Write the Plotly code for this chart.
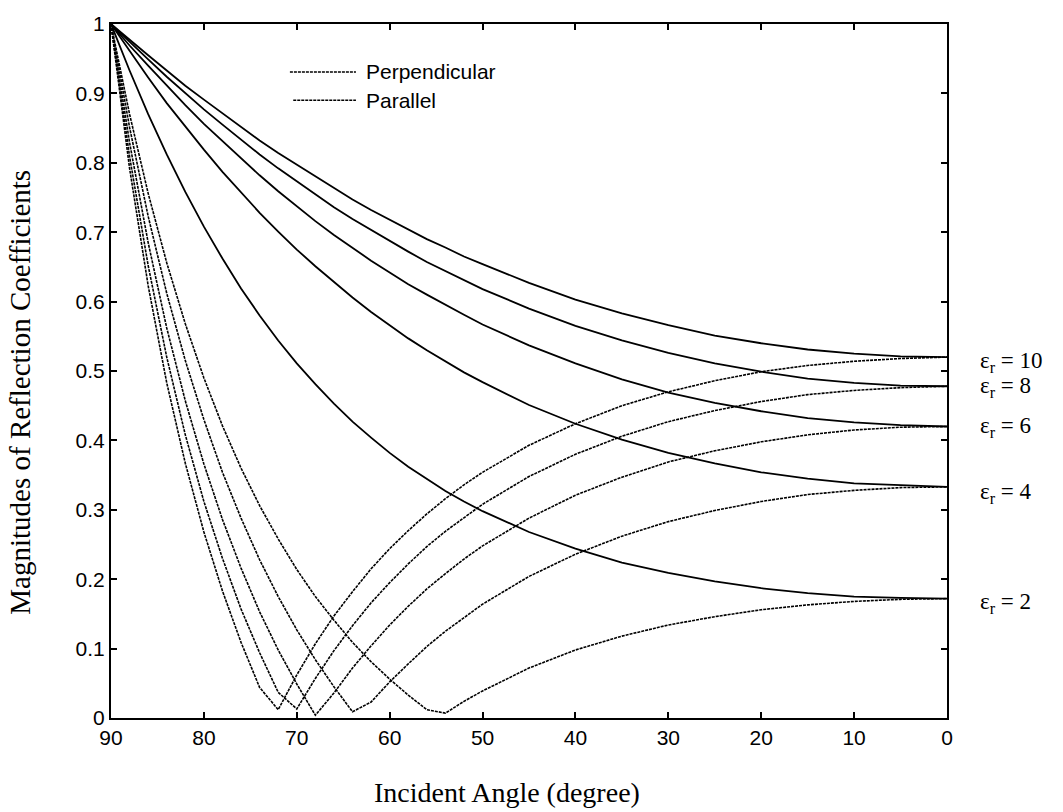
import plotly.graph_objects as go

# Incident angle (degree)
angles = [90, 88, 86, 84, 82, 80, 78, 76, 74, 72, 70, 68, 66, 64, 62, 60, 58, 56, 54, 52, 50,
          45, 40, 35, 30, 25, 20, 15, 10, 5, 0]

# Perpendicular polarisation magnitudes
perp_2 = [1.000, 0.933, 0.870, 0.812, 0.758, 0.708, 0.662, 0.619, 0.580, 0.544, 0.511, 0.481, 0.453, 0.427, 0.404, 0.382,
          0.362, 0.344, 0.327, 0.312, 0.298, 0.268, 0.244, 0.224, 0.209, 0.197, 0.187, 0.180, 0.175, 0.173, 0.172]
perp_4 = [1.000, 0.961, 0.923, 0.886, 0.852, 0.819, 0.787, 0.757, 0.728, 0.701, 0.675, 0.651, 0.628, 0.606, 0.585, 0.566,
          0.547, 0.530, 0.514, 0.498, 0.484, 0.451, 0.424, 0.401, 0.382, 0.367, 0.354, 0.345, 0.338, 0.335, 0.333]
perp_6 = [1.000, 0.969, 0.940, 0.911, 0.883, 0.856, 0.831, 0.806, 0.782, 0.759, 0.737, 0.716, 0.696, 0.677, 0.659, 0.642,
          0.625, 0.610, 0.595, 0.581, 0.567, 0.537, 0.511, 0.488, 0.469, 0.454, 0.442, 0.432, 0.426, 0.422, 0.420]
perp_8 = [1.000, 0.974, 0.949, 0.924, 0.900, 0.877, 0.855, 0.833, 0.812, 0.792, 0.773, 0.754, 0.736, 0.719, 0.703, 0.687,
          0.672, 0.657, 0.644, 0.631, 0.618, 0.590, 0.565, 0.544, 0.526, 0.511, 0.499, 0.489, 0.483, 0.479, 0.478]
perp_10 = [1.000, 0.977, 0.955, 0.933, 0.911, 0.891, 0.871, 0.851, 0.832, 0.814, 0.797, 0.780, 0.763, 0.747, 0.732, 0.718,
           0.704, 0.690, 0.678, 0.665, 0.654, 0.627, 0.603, 0.583, 0.566, 0.551, 0.540, 0.531, 0.525, 0.521, 0.520]

# Parallel polarisation magnitudes
par_2 = [1.000, 0.870, 0.756, 0.656, 0.568, 0.490, 0.421, 0.360, 0.306, 0.258, 0.214, 0.175, 0.141, 0.109, 0.081, 0.056,
         0.033, 0.012, 0.007, 0.024, 0.039, 0.072, 0.098, 0.118, 0.134, 0.146, 0.156, 0.163, 0.168, 0.171, 0.172]
par_4 = [1.000, 0.851, 0.723, 0.612, 0.515, 0.430, 0.354, 0.288, 0.228, 0.175, 0.127, 0.084, 0.045, 0.009, 0.023, 0.052,
         0.078, 0.103, 0.125, 0.145, 0.164, 0.204, 0.236, 0.262, 0.283, 0.299, 0.312, 0.322, 0.328, 0.332, 0.333]
par_6 = [1.000, 0.829, 0.685, 0.562, 0.457, 0.366, 0.286, 0.216, 0.153, 0.098, 0.049, 0.004, 0.036, 0.072, 0.104, 0.134,
         0.161, 0.186, 0.208, 0.229, 0.248, 0.288, 0.321, 0.347, 0.369, 0.385, 0.398, 0.408, 0.415, 0.419, 0.420]
par_8 = [1.000, 0.809, 0.652, 0.520, 0.408, 0.312, 0.230, 0.157, 0.094, 0.037, 0.013, 0.057, 0.097, 0.133, 0.166, 0.195,
         0.222, 0.247, 0.269, 0.289, 0.308, 0.348, 0.380, 0.406, 0.427, 0.443, 0.456, 0.466, 0.472, 0.476, 0.478]
par_10 = [1.000, 0.792, 0.623, 0.483, 0.367, 0.268, 0.183, 0.109, 0.044, 0.012, 0.062, 0.107, 0.147, 0.182, 0.215, 0.244,
          0.270, 0.294, 0.316, 0.336, 0.354, 0.393, 0.424, 0.450, 0.470, 0.486, 0.499, 0.508, 0.514, 0.518, 0.520]

perp_series = [perp_2, perp_4, perp_6, perp_8, perp_10]
par_series = [par_2, par_4, par_6, par_8, par_10]

eps_labels = ["2", "4", "6", "8", "10"]
eps_label_y = [0.166, 0.324, 0.420, 0.477, 0.513]

x_ticks = [90, 80, 70, 60, 50, 40, 30, 20, 10, 0]
y_ticks = [0, 0.1, 0.2, 0.3, 0.4, 0.5, 0.6, 0.7, 0.8, 0.9, 1]
y_tick_text = ["0", "0.1", "0.2", "0.3", "0.4", "0.5", "0.6", "0.7", "0.8", "0.9", "1"]

DOT = "3px,1px"
SERIF = "Liberation Serif, Times New Roman"
SANS = "Liberation Sans, Arial"

fig = go.Figure()
for ys in perp_series:
    fig.add_trace(go.Scatter(x=angles, y=ys, mode="lines",
                             line=dict(color="black", width=1.8), showlegend=False, hoverinfo="skip"))
for ys in par_series:
    fig.add_trace(go.Scatter(x=angles, y=ys, mode="lines",
                             line=dict(color="black", width=1.6, dash=DOT), showlegend=False, hoverinfo="skip"))

axis_common = dict(showline=True, linecolor="black", linewidth=2, mirror="ticks",
                   ticks="inside", ticklen=6, tickwidth=1.5, tickcolor="black",
                   showgrid=False, zeroline=False,
                   tickfont=dict(family=SANS, size=21, color="black"))

fig.update_xaxes(range=[90, 0], tickvals=x_ticks, ticktext=[str(v) for v in x_ticks], **axis_common)
fig.update_yaxes(range=[0, 1], tickvals=y_ticks, ticktext=y_tick_text, **axis_common)

annotations = []
for lab, yv in zip(eps_labels, eps_label_y):
    annotations.append(dict(x=1.037, xref="paper", y=yv, yref="y", xanchor="left", yanchor="middle",
                            text="ε<sub>r</sub> = " + lab, showarrow=False,
                            font=dict(family=SERIF, size=23, color="black")))

# axis titles
annotations.append(dict(x=0.474, xref="paper", y=-0.107, yref="paper", xanchor="center", yanchor="middle",
                        text="Incident Angle (degree)", showarrow=False,
                        font=dict(family=SERIF, size=28, color="black")))
annotations.append(dict(x=-0.109, xref="paper", y=0.47, yref="paper", xanchor="center", yanchor="middle",
                        text="Magnitudes of Reflection Coefficients", textangle=-90, showarrow=False,
                        font=dict(family=SERIF, size=29, color="black")))

# legend (drawn like the original)
legend_names = ["Perpendicular", "Parallel"]
legend_y = [0.931, 0.890]
legend_x0 = [0.214, 0.218]
shapes = []
for name, ly, lx0 in zip(legend_names, legend_y, legend_x0):
    shapes.append(dict(type="line", xref="paper", yref="paper", x0=lx0, x1=0.293, y0=ly, y1=ly,
                       line=dict(color="black", width=1.5, dash=DOT)))
    annotations.append(dict(x=0.303, xref="paper", y=ly, yref="paper", xanchor="left", yanchor="middle",
                            text=name, showarrow=False,
                            font=dict(family=SANS, size=21, color="black")))

fig.update_layout(width=1063, height=812, margin=dict(l=111, r=116, t=20, b=94),
                  paper_bgcolor="white", plot_bgcolor="white",
                  annotations=annotations, shapes=shapes, showlegend=False, hovermode=False)

fig.write_html("out.html")
